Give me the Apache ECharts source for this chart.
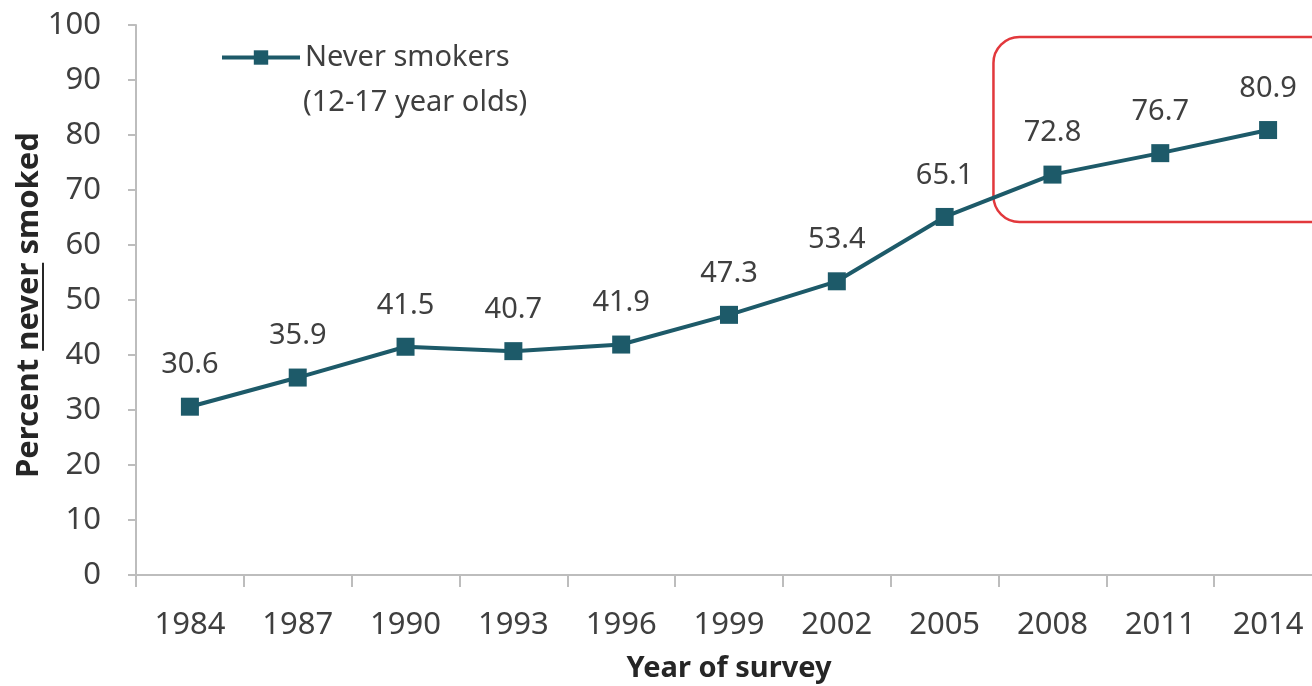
<!DOCTYPE html>
<html>
<head>
<meta charset="utf-8">
<script src="https://cdn.jsdelivr.net/npm/echarts@6/dist/echarts.min.js"></script>
<style>
  html, body { margin: 0; padding: 0; background: #fff; }
  #chart { width: 1312px; height: 686px; }
</style>
</head>
<body>
<div id="chart"></div>
<script>
// Survey years and share of 12-17 year olds who have never smoked
const years = ['1984', '1987', '1990', '1993', '1996', '1999', '2002', '2005', '2008', '2011', '2014'];
const neverSmokers = [30.6, 35.9, 41.5, 40.7, 41.9, 47.3, 53.4, 65.1, 72.8, 76.7, 80.9];
const seriesName = 'Never smokers';
const seriesSubName = '(12-17 year olds)';
const xTitle = 'Year of survey';
const yTitleParts = ['Percent ', 'never', ' smoked'];
// Years highlighted by the rounded callout box
const highlightFrom = '2008';
const highlightTo = '2014';

const FONT = '"Noto Sans", "Open Sans", sans-serif';
const LINE = '#1d5a69';
const TEXT = '#3f3f3f';
const TITLE = '#262626';
const AXIS = '#bdbdbd';

const chart = echarts.init(document.getElementById('chart'), null, { renderer: 'canvas' });

chart.setOption({
  animation: false,
  backgroundColor: '#ffffff',
  textStyle: { fontFamily: FONT },
  grid: { left: 136, top: 25, right: -10, bottom: 111, containLabel: false, outerBoundsMode: 'none' },
  legend: {
    left: 220,
    top: 43,
    padding: 0,
    itemWidth: 78,
    itemHeight: 18,
    itemGap: 5,
    data: [seriesName],
    lineStyle: { color: LINE, width: 4 },
    itemStyle: { color: LINE },
    textStyle: { fontFamily: FONT, fontSize: 29, color: TEXT }
  },
  xAxis: {
    type: 'category',
    data: years,
    boundaryGap: true,
    axisLine: { lineStyle: { color: AXIS, width: 2 } },
    axisTick: { show: true, length: 12, interval: 0, lineStyle: { color: AXIS, width: 2 } },
    axisLabel: { fontFamily: FONT, fontSize: 31, color: TEXT, margin: 35, interval: 0 },
    name: xTitle,
    nameLocation: 'middle',
    nameGap: 79,
    nameTextStyle: { fontFamily: FONT, fontSize: 29, fontWeight: 'bold', color: TITLE }
  },
  yAxis: {
    type: 'value',
    min: 0,
    max: 100,
    interval: 10,
    splitLine: { show: false },
    axisLine: { show: true, lineStyle: { color: AXIS, width: 2 } },
    axisTick: { show: true, length: 8, lineStyle: { color: AXIS, width: 2 } },
    axisLabel: { fontFamily: FONT, fontSize: 31, color: TEXT, margin: 35 }
  },
  series: [{
    name: seriesName,
    type: 'line',
    data: neverSmokers,
    symbol: 'rect',
    symbolSize: 18,
    lineStyle: { color: LINE, width: 4 },
    itemStyle: { color: LINE },
    label: {
      show: true,
      position: 'top',
      distance: 18,
      fontFamily: FONT,
      fontSize: 29,
      color: TEXT,
      formatter: p => p.value.toFixed(1)
    }
  }]
});

// Annotations placed from the chart's own coordinate system
function drawAnnotations() {
  const fromPx = chart.convertToPixel({ gridIndex: 0 }, [highlightFrom, 97.8]);
  const toPx = chart.convertToPixel({ gridIndex: 0 }, [highlightTo, 64.2]);
  const boxLeft = fromPx[0] - 59;
  const boxTop = fromPx[1];
  const boxBottom = toPx[1];

  // measure the rotated y-axis title so the underline sits under "never"
  const titleFont = 'bold 31px ' + FONT;
  const ctx = document.createElement('canvas').getContext('2d');
  ctx.font = titleFont;
  const full = yTitleParts.join('');
  const wFull = ctx.measureText(full).width;
  const wPre = ctx.measureText(yTitleParts[0]).width;
  const wMid = ctx.measureText(yTitleParts[1]).width;

  chart.setOption({
    graphic: [
      {
        type: 'rect',
        shape: { x: boxLeft, y: boxTop, width: 1400 - boxLeft, height: boxBottom - boxTop, r: 26 },
        style: { fill: 'none', stroke: '#e2383c', lineWidth: 2.5 },
        z: 1
      },
      {
        type: 'text',
        x: 303,
        y: 103,
        style: {
          text: seriesSubName,
          font: '29px ' + FONT,
          fill: TEXT,
          verticalAlign: 'middle'
        }
      },
      {
        type: 'group',
        x: 29,
        y: 305,
        rotation: Math.PI / 2,
        children: [
          {
            type: 'text',
            x: 0,
            y: 0,
            style: {
              text: full,
              font: titleFont,
              fill: TITLE,
              align: 'center',
              verticalAlign: 'middle'
            }
          },
          {
            type: 'rect',
            shape: { x: -wFull / 2 + wPre, y: 13, width: wMid, height: 2 },
            style: { fill: TITLE }
          }
        ]
      }
    ]
  });
}
drawAnnotations();
</script>
</body>
</html>
